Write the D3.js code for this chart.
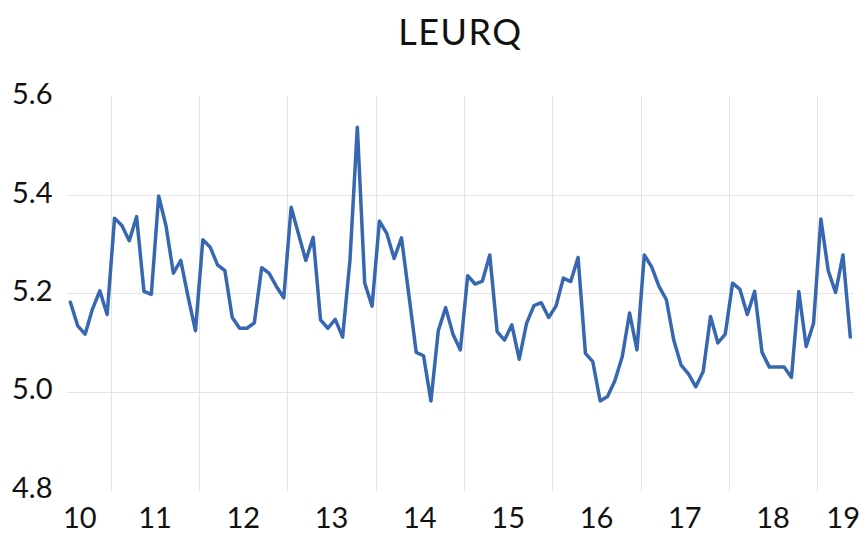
<!DOCTYPE html>
<html>
<head>
<meta charset="utf-8">
<script src="https://cdn.jsdelivr.net/npm/d3@7"></script>
<style>
  html, body { margin: 0; padding: 0; background: #fff; }
  svg { display: block; font-family: Lato, "Open Sans", sans-serif; }
</style>
</head>
<body>
<svg id="chart" width="865" height="536"></svg>
<script>
// series: LEURQ, monthly, Jul 2010 .. May 2019
const title = "LEURQ";
const startMonth = new Date(2010, 6, 1);
const endMonth = new Date(2019, 4, 1);
const values = [
  5.182, 5.134, 5.117, 5.168, 5.205, 5.157,
  5.353, 5.338, 5.307, 5.356, 5.204, 5.198, 5.398, 5.337, 5.241, 5.267, 5.193, 5.124,
  5.309, 5.294, 5.258, 5.246, 5.151, 5.129, 5.129, 5.140, 5.252, 5.241, 5.214, 5.191,
  5.375, 5.321, 5.267, 5.314, 5.146, 5.129, 5.147, 5.111, 5.268, 5.538, 5.221, 5.174,
  5.347, 5.322, 5.271, 5.313, 5.197, 5.080, 5.073, 4.981, 5.124, 5.171, 5.117, 5.085,
  5.236, 5.219, 5.225, 5.278, 5.122, 5.105, 5.136, 5.066, 5.139, 5.175, 5.181, 5.151,
  5.174, 5.231, 5.224, 5.273, 5.078, 5.061, 4.981, 4.990, 5.022, 5.071, 5.160, 5.085,
  5.278, 5.254, 5.214, 5.187, 5.105, 5.054, 5.036, 5.010, 5.041, 5.153, 5.099, 5.117,
  5.221, 5.208, 5.157, 5.204, 5.080, 5.050, 5.050, 5.050, 5.029, 5.204, 5.092, 5.139,
  5.351, 5.246, 5.202, 5.278, 5.111
];
const yTicks = [4.8, 5.0, 5.2, 5.4, 5.6];
const yearLabels = ["10", "11", "12", "13", "14", "15", "16", "17", "18", "19"];

const months = d3.timeMonth.range(startMonth, d3.timeMonth.offset(endMonth, 1));
const data = months.map((m, i) => ({ date: m, value: values[i] }));

const svg = d3.select("#chart");
const plot = { left: 66.7, right: 854, top: 96.7, bottom: 490 };

const x = d3.scaleBand()
  .domain(d3.range(months.length))
  .range([plot.left, plot.right]);
const bw = x.bandwidth();
const xc = i => x(i) + bw / 2;

const y = d3.scaleLinear()
  .domain([4.8, 5.6])
  .range([plot.bottom, plot.top]);

// horizontal gridlines (inner ticks only)
svg.append("g")
  .selectAll("line")
  .data(yTicks.filter(t => t > 4.8 && t < 5.6))
  .join("line")
  .attr("x1", plot.left).attr("x2", plot.right)
  .attr("y1", d => Math.round(y(d)) + 0.5).attr("y2", d => Math.round(y(d)) + 0.5)
  .attr("stroke", "#e4e4e4").attr("stroke-width", 1);

// vertical gridlines at each January boundary
const janIdx = data.map((d, i) => i).filter(i => i > 0 && data[i].date.getMonth() === 0);
svg.append("g")
  .selectAll("line")
  .data(janIdx)
  .join("line")
  .attr("x1", i => Math.round(x(i)) + 0.5).attr("x2", i => Math.round(x(i)) + 0.5)
  .attr("y1", plot.top).attr("y2", plot.bottom + 2)
  .attr("stroke", "#e4e4e4").attr("stroke-width", 1);

// y labels
svg.append("g")
  .selectAll("text")
  .data(yTicks)
  .join("text")
  .attr("x", 12)
  .attr("y", d => y(d) + 7.5)
  .attr("font-size", 29)
  .attr("fill", "#111")
  .text(d => d.toFixed(1));

// x labels: centred on each calendar year, kept inside the chart edges
const xLab = svg.append("g");
yearLabels.forEach((lab, k) => {
  const yr = 2010 + k;
  const jan = d3.timeMonth.count(startMonth, new Date(yr, 0, 1));
  const cx = x.step() * (jan + 6) + plot.left;
  const t = xLab.append("text")
    .attr("y", 528)
    .attr("font-size", 29)
    .attr("fill", "#111")
    .attr("text-anchor", "middle")
    .text(lab);
  const w = t.node().getComputedTextLength();
  const c = Math.max(63 + w / 2, Math.min(860 - w / 2, cx));
  t.attr("x", c);
});

// line
const line = d3.line()
  .x((d, i) => xc(i))
  .y(d => y(d.value));

svg.append("path")
  .datum(data)
  .attr("d", line)
  .attr("fill", "none")
  .attr("stroke", "#3767b1")
  .attr("stroke-width", 3.5)
  .attr("stroke-linejoin", "round")
  .attr("stroke-linecap", "round");

// title
svg.append("text")
  .attr("x", (plot.left + plot.right) / 2)
  .attr("y", 45)
  .attr("text-anchor", "middle")
  .attr("font-size", 36)
  .attr("letter-spacing", 1.5)
  .attr("fill", "#111")
  .text(title);
</script>
</body>
</html>
